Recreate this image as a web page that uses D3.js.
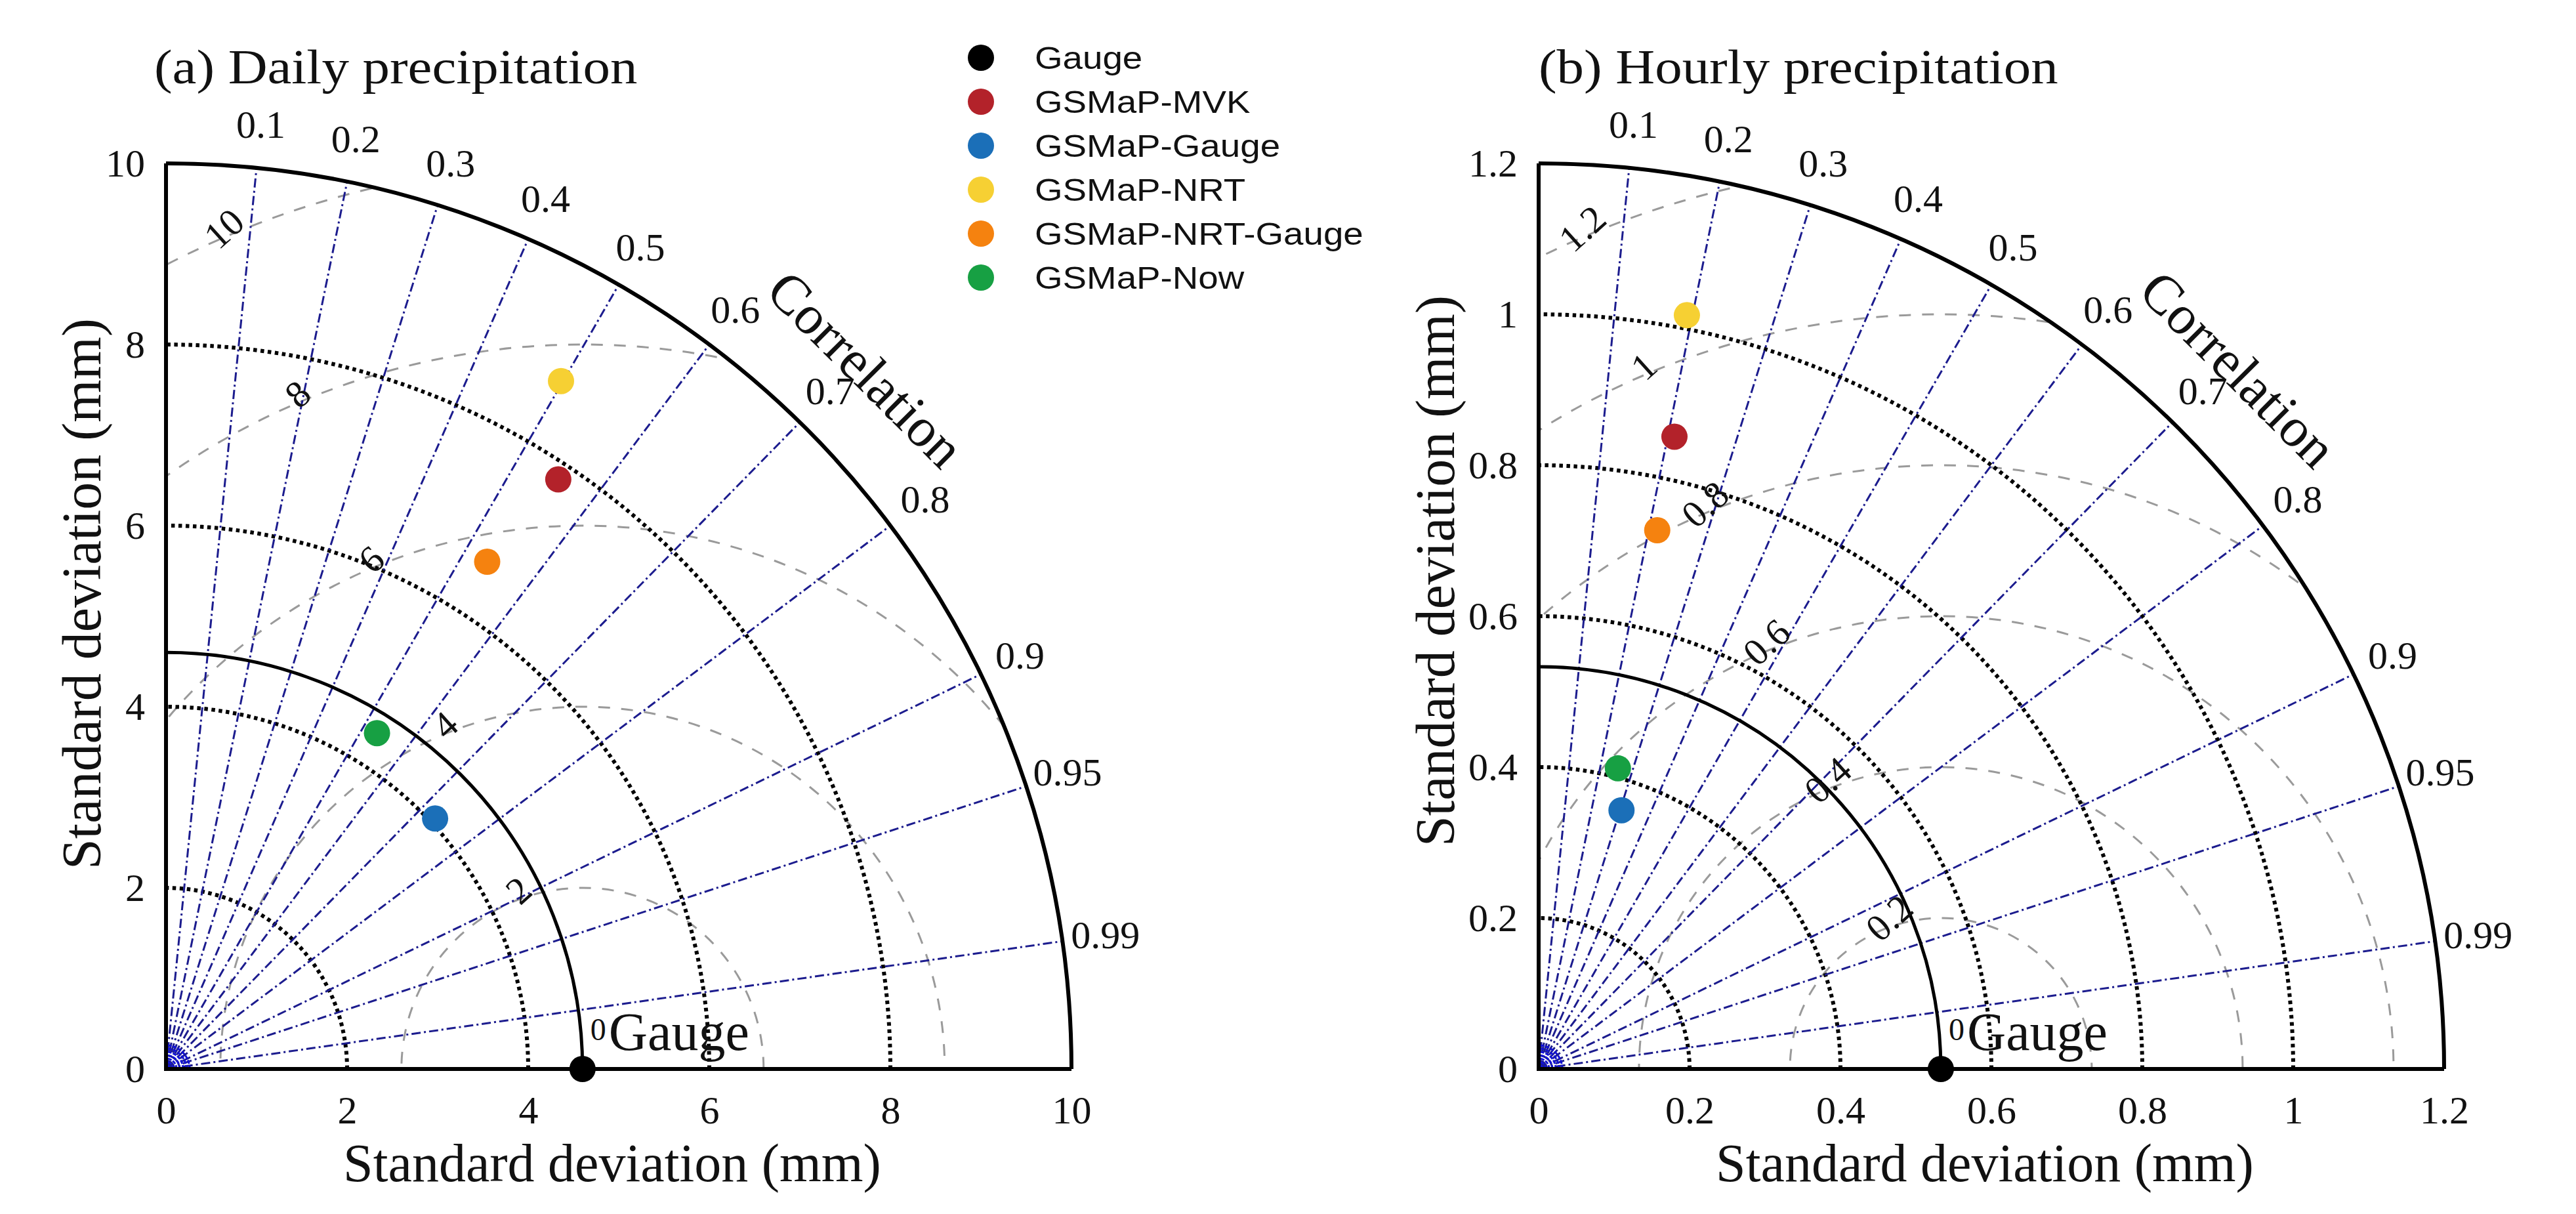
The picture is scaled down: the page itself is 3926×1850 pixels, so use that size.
<!DOCTYPE html>
<html>
<head>
<meta charset="utf-8">
<script src="https://cdn.jsdelivr.net/npm/d3@7"></script>
<style>
  body { margin: 0; background: #fff; }
</style>
</head>
<body>
<script>
// values
const models = ["Gauge", "GSMaP-MVK", "GSMaP-Gauge", "GSMaP-NRT", "GSMaP-NRT-Gauge", "GSMaP-Now"];
const modelColors = ["#000000", "#b3222a", "#1b6fb8", "#f6d033", "#f5820f", "#17a043"];

const dailyStd = [4.6, 7.82, 4.06, 8.76, 6.63, 4.38];
const dailyCorr = [1, 0.554, 0.732, 0.498, 0.535, 0.532];
const hourlyStd = [0.533, 0.857, 0.36, 1.018, 0.731, 0.412];
const hourlyCorr = [1, 0.21, 0.305, 0.193, 0.215, 0.255];

const corrTicks = [0.1, 0.2, 0.3, 0.4, 0.5, 0.6, 0.7, 0.8, 0.9, 0.95, 0.99];
const dailyStdTicks = [0, 2, 4, 6, 8, 10];
const hourlyStdTicks = [0, 0.2, 0.4, 0.6, 0.8, 1, 1.2];
const dailyRmsTicks = [2, 4, 6, 8, 10];
const hourlyRmsTicks = [0.2, 0.4, 0.6, 0.8, 1, 1.2];

const width = 3926;
const height = 1850;
const originY = 1629;
const R = 1380;
const serif = "'Liberation Serif', 'Times New Roman', serif";
const sans = "'Liberation Sans', Arial, sans-serif";
const corrColor = "#1c1c8e";
const rmsColor = "#9a9a9a";
const fmt = d3.format("~g");

const panels = [
  {
    id: "a", title: "(a) Daily precipitation",
    std: dailyStd, corr: dailyCorr, stdTicks: dailyStdTicks, rmsTicks: dailyRmsTicks,
    max: 10, ox: 253, titleX: 235, yLabelGap: 100, yLabelCy: 905
  },
  {
    id: "b", title: "(b) Hourly precipitation",
    std: hourlyStd, corr: hourlyCorr, stdTicks: hourlyStdTicks, rmsTicks: hourlyRmsTicks,
    max: 1.2, ox: 2345, titleX: 2345, yLabelGap: 129, yLabelCy: 870
  }
];

const svg = d3.select("body")
  .append("svg")
  .attr("width", width)
  .attr("height", height)
  .attr("viewBox", [0, 0, width, height]);

svg.append("rect").attr("width", width).attr("height", height).attr("fill", "#fff");

function stretch(sel, k) {
  sel.each(function () {
    const w = this.getComputedTextLength();
    d3.select(this).attr("textLength", w * k).attr("lengthAdjust", "spacingAndGlyphs");
  });
}

function quarterArc(cx, cy, r) {
  const p = d3.path();
  p.moveTo(cx + r, cy);
  p.arc(cx, cy, r, 0, -Math.PI / 2, true);
  return p.toString();
}

function drawPanel(p) {
  const g = svg.append("g");
  const x = d3.scaleLinear().domain([0, p.max]).range([p.ox, p.ox + R]);
  const y = d3.scaleLinear().domain([0, p.max]).range([originY, originY - R]);
  const k = R / p.max;
  const polar = (r, c) => [x(r * c), y(r * Math.sqrt(1 - c * c))];
  const gaugeStd = p.std[0];

  // clip to the quarter disc
  const clipId = "clip-" + p.id;
  g.append("clipPath").attr("id", clipId)
    .append("path")
    .attr("d", `M${p.ox},${originY}L${p.ox + R},${originY}A${R},${R} 0 0 0 ${p.ox},${originY - R}Z`);

  // centred RMS difference contours
  g.append("g").attr("clip-path", `url(#${clipId})`)
    .selectAll("circle")
    .data(p.rmsTicks)
    .join("circle")
    .attr("cx", x(gaugeStd))
    .attr("cy", originY)
    .attr("r", d => d * k)
    .attr("fill", "none")
    .attr("stroke", rmsColor)
    .attr("stroke-width", 3)
    .attr("stroke-dasharray", "18,17");

  // standard deviation dotted arcs
  g.append("g")
    .selectAll("path")
    .data(p.stdTicks.filter(t => t > 0 && t < p.max))
    .join("path")
    .attr("d", d => quarterArc(p.ox, originY, d * k))
    .attr("fill", "none")
    .attr("stroke", "#000")
    .attr("stroke-width", 6)
    .attr("stroke-dasharray", "5.5,5.5");

  // correlation rays
  g.append("g")
    .selectAll("line")
    .data(corrTicks)
    .join("line")
    .attr("x1", x(0))
    .attr("y1", y(0))
    .attr("x2", d => polar(p.max, d)[0])
    .attr("y2", d => polar(p.max, d)[1])
    .attr("stroke", corrColor)
    .attr("stroke-width", 3)
    .attr("stroke-dasharray", "14,5,3,5");

  // little blue knot where the rays meet
  g.append("g")
    .selectAll("path")
    .data([6, 11, 16, 21, 26, 31, 36])
    .join("path")
    .attr("d", d => quarterArc(p.ox, originY, d))
    .attr("fill", "none")
    .attr("stroke", "#1212d4")
    .attr("stroke-width", 3)
    .attr("stroke-dasharray", "6,2");

  // outer arc, axes, reference arc
  g.append("path")
    .attr("d", quarterArc(p.ox, originY, R))
    .attr("fill", "none").attr("stroke", "#000").attr("stroke-width", 6);
  g.append("path")
    .attr("d", `M${p.ox},${originY - R}V${originY}H${p.ox + R}`)
    .attr("fill", "none").attr("stroke", "#000").attr("stroke-width", 6);
  g.append("path")
    .attr("d", quarterArc(p.ox, originY, gaugeStd * k))
    .attr("fill", "none").attr("stroke", "#000").attr("stroke-width", 5);

  // axes tick labels
  const yAxis = g.append("g")
    .attr("transform", `translate(${p.ox},0)`)
    .call(d3.axisLeft(y).tickValues(p.stdTicks).tickSize(0).tickPadding(32).tickFormat(fmt));
  const xAxis = g.append("g")
    .attr("transform", `translate(0,${originY})`)
    .call(d3.axisBottom(x).tickValues(p.stdTicks).tickSize(0).tickPadding(40).tickFormat(fmt));
  [yAxis, xAxis].forEach(a => {
    a.select(".domain").remove();
    a.selectAll("text")
      .attr("font-family", serif)
      .attr("font-size", 60)
      .attr("fill", "#111");
  });

  // correlation tick labels
  g.append("g")
    .selectAll("text")
    .data(corrTicks)
    .join("text")
    .attr("x", d => polar(p.max * 1.048, d)[0])
    .attr("y", d => polar(p.max * 1.048, d)[1])
    .attr("text-anchor", "middle")
    .attr("dominant-baseline", "central")
    .attr("font-family", serif)
    .attr("font-size", 60)
    .attr("fill", "#111")
    .text(d => fmt(d));

  const [cx, cy] = polar(p.max * 1.093, Math.SQRT1_2);
  g.append("text")
    .attr("transform", `translate(${cx},${cy}) rotate(45)`)
    .attr("text-anchor", "middle")
    .attr("dominant-baseline", "central")
    .attr("font-family", serif)
    .attr("font-size", 84)
    .attr("fill", "#111")
    .text("Correlation");

  // RMS labels
  const rmsAngle = 114 * Math.PI / 180;
  g.append("g")
    .selectAll("text")
    .data(p.rmsTicks)
    .join("text")
    .attr("transform", d => {
      const tx = x(gaugeStd) + d * k * Math.cos(rmsAngle) + 15;
      const ty = originY - d * k * Math.sin(rmsAngle) - 20;
      return `translate(${tx},${ty}) rotate(-42)`;
    })
    .attr("text-anchor", "middle")
    .attr("dominant-baseline", "central")
    .attr("font-family", serif)
    .attr("font-size", 58)
    .attr("fill", "#111")
    .text(d => fmt(d));

  // observation label
  g.append("text")
    .attr("x", x(gaugeStd) + 12)
    .attr("y", originY - 44)
    .attr("font-family", serif)
    .attr("font-size", 48)
    .attr("fill", "#111")
    .text("0");
  g.append("text")
    .attr("x", x(gaugeStd) + 40)
    .attr("y", originY - 29)
    .attr("font-family", serif)
    .attr("font-size", 82)
    .attr("fill", "#111")
    .text("Gauge");

  // axis titles
  g.append("text")
    .attr("x", p.ox + R / 2 - 10)
    .attr("y", 1800)
    .attr("text-anchor", "middle")
    .attr("font-family", serif)
    .attr("font-size", 82)
    .attr("fill", "#111")
    .text("Standard deviation (mm)");
  g.append("text")
    .attr("transform", `translate(${p.ox - p.yLabelGap},${p.yLabelCy}) rotate(-90)`)
    .attr("text-anchor", "middle")
    .attr("font-family", serif)
    .attr("font-size", 84)
    .attr("fill", "#111")
    .text("Standard deviation (mm)");

  // panel title
  g.append("text")
    .attr("x", p.titleX)
    .attr("y", 127)
    .attr("font-family", serif)
    .attr("font-size", 74)
    .attr("fill", "#111")
    .text(p.title)
    .call(stretch, 1.12);

  // model points
  g.append("g")
    .selectAll("circle")
    .data(models.map((m, i) => ({ m, s: p.std[i], c: p.corr[i], color: modelColors[i] })))
    .join("circle")
    .attr("cx", d => polar(d.s, d.c)[0])
    .attr("cy", d => polar(d.s, d.c)[1])
    .attr("r", 20)
    .attr("fill", d => d.color);
}

panels.forEach(drawPanel);

// legend
const legend = svg.append("g");
const legendRow = 67;
legend.selectAll("circle")
  .data(models)
  .join("circle")
  .attr("cx", 1495)
  .attr("cy", (d, i) => 88 + i * legendRow)
  .attr("r", 20)
  .attr("fill", (d, i) => modelColors[i]);
legend.selectAll("text")
  .data(models)
  .join("text")
  .attr("x", 1577)
  .attr("y", (d, i) => 88 + i * legendRow)
  .attr("dominant-baseline", "central")
  .attr("font-family", sans)
  .attr("font-size", 48)
  .attr("fill", "#111")
  .text(d => d)
  .call(stretch, 1.14);
</script>
</body>
</html>
